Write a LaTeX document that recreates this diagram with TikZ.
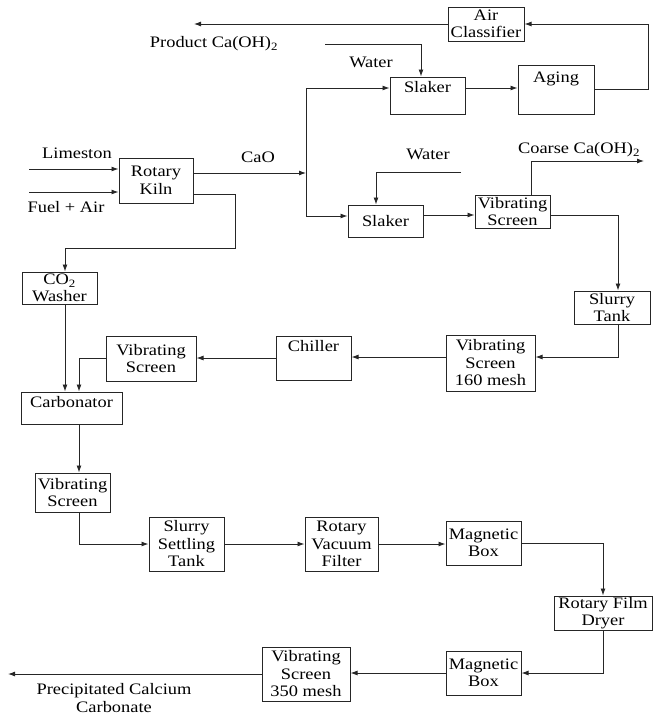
\documentclass[tikz,border=0pt]{standalone}
\usepackage{fontspec}
\setmainfont{Liberation Serif}[FakeStretch=1.15]
\usepackage{tikz}
\usetikzlibrary{arrows.meta}

\begin{document}
\begin{tikzpicture}[
  x=1pt, y=-1pt,
  font=\fontsize{16}{17.5}\selectfont,
  box/.style={draw=black!85, line width=1pt, align=center,
              inner xsep=1pt, inner ysep=0pt},
  toptxt/.style 2 args={text height=#1, text depth=#2},
  lbl/.style={inner sep=0pt, align=center},
  arr/.style={-{Latex[length=7pt,width=5pt]}, line width=0.9pt, black!85}
]
\useasboundingbox (0,0) rectangle (653,715);

% lime / slaking part
\node[box, minimum width=76pt, minimum height=34pt] (aircl) at (486,24) {Air\\Classifier};
\node[box, minimum width=75pt, toptxt={15pt}{22pt}] (slakA) at (427.5,95.5) {Slaker};
\node[box, minimum width=76pt, toptxt={17pt}{32pt}] (aging) at (556,89.5) {Aging};
\node[box, minimum width=74pt, minimum height=45pt] (kiln) at (156,180.5) {Rotary\\Kiln};
\node[box, minimum width=75pt, minimum height=32pt] (slakB) at (385.5,221) {Slaker};
\node[box, minimum width=75pt, minimum height=33pt] (vs1) at (512.5,211.5) {Vibrating\\Screen};
\node[box, minimum width=75pt, minimum height=32pt] (washer) at (59.5,288) {CO\textsubscript{2}\\Washer};
\node[box, minimum width=76pt, minimum height=33pt] (slurry) at (612,307.5) {Slurry\\Tank};
\node[box, minimum width=89pt, minimum height=56pt] (vs160) at (490.5,363) {Vibrating\\Screen\\160 mesh};
\node[box, minimum width=75pt, toptxt={15pt}{29pt}] (chiller) at (313.5,358) {Chiller};
\node[box, minimum width=90pt, minimum height=45pt] (vs2) at (151,358.5) {Vibrating\\Screen};
\node[box, minimum width=101pt, toptxt={15pt}{17pt}] (carb) at (71.5,408) {Carbonator};

% carbonate part
\node[box, minimum width=75pt, minimum height=39pt] (vs3) at (72.5,492.5) {Vibrating\\Screen};
\node[box, minimum width=75pt, minimum height=54pt] (settle) at (186.5,544) {Slurry\\Settling\\Tank};
\node[box, minimum width=73pt, minimum height=54pt] (rvf) at (341.5,544) {Rotary\\Vacuum\\Filter};
\node[box, minimum width=75pt, minimum height=44pt] (mag1) at (483.5,543) {Magnetic\\Box};
\node[box, minimum width=98pt, minimum height=34pt] (dryer) at (603,613) {Rotary Film\\Dryer};
\node[box, minimum width=75pt, minimum height=44pt] (mag2) at (483.5,673) {Magnetic\\Box};
\node[box, minimum width=88pt, minimum height=54pt] (vs4) at (306,674) {Vibrating\\Screen\\350 mesh};

% stream labels
\node[lbl] (prod) at (214,44) {Product Ca(OH)\textsubscript{2}};
\node[lbl] (water1) at (371,62) {Water};
\node[lbl] (lime) at (77,153) {Limeston};
\node[lbl] (fuel) at (66,207) {Fuel + Air};
\node[lbl] (cao) at (258,157) {CaO};
\node[lbl] (water2) at (428,154) {Water};
\node[lbl] (coarse) at (579,150) {Coarse Ca(OH)\textsubscript{2}};
\node[lbl] (pcc) at (114,698) {Precipitated Calcium\\Carbonate};

\coordinate (limein) at (29,169);
\coordinate (fuelin) at (29,192);
\coordinate (split) at (306,173);
\coordinate (w1in) at (325,44);
\coordinate (w2in) at (461,172);
\coordinate (prodout) at (194,24);
\coordinate (recyc) at (648,24);
\coordinate (kbend) at (235,248);
\coordinate (coarseout) at (644,161);
\coordinate (pccout) at (8,674);

\draw[arr] (limein) -- (limein -| kiln.west);
\draw[arr] (fuelin) -- (fuelin -| kiln.west);
\draw[arr] (kiln.east |- split) -- (split);
\draw[arr] (split) |- ([yshift=7.5pt]slakA.west);
\draw[arr] (split) |- ([yshift=5pt]slakB.west);
\draw[arr] (w1in) -| ([xshift=-6.5pt]slakA.north);
\draw[arr] ([yshift=7.5pt]slakA.east) -- ([yshift=7.5pt]slakA.east -| aging.west);
\draw[arr] (aging.east) -| (recyc) -- (aircl.east);
\draw[arr] (aircl.west) -- (prodout);
\draw[arr] ([yshift=-13.5pt]kiln.east) -| (kbend) -| ([xshift=5.5pt]washer.north);
\draw[arr] (w2in) -| ([xshift=-9.5pt]slakB.north);
\draw[arr] ([yshift=6pt]slakB.east) -- ([yshift=6pt]slakB.east -| vs1.west);
\draw[arr] ([xshift=18.5pt]vs1.north) |- (coarseout);
\draw[arr] ([yshift=-3.5pt]vs1.east) -| ([xshift=6pt]slurry.north);
\draw[arr] ([xshift=6pt]slurry.south) |- ([yshift=6pt]vs160.east);
\draw[arr] ([yshift=6pt]vs160.west) -- ([yshift=6pt]vs160.west -| chiller.east);
\draw[arr] (chiller.west) -- (chiller.west -| vs2.east);
\draw[arr] (vs2.west) -| ([xshift=7.5pt]carb.north);
\draw[arr] ([xshift=5.5pt]washer.south) -- ([xshift=5.5pt]washer.south |- carb.north);
\draw[arr] ([xshift=7.5pt]carb.south) -- ([xshift=7.5pt]carb.south |- vs3.north);
\draw[arr] ([xshift=6.5pt]vs3.south) |- (settle.west);
\draw[arr] (settle.east) -- (settle.east -| rvf.west);
\draw[arr] (rvf.east) -- (rvf.east -| mag1.west);
\draw[arr] (mag1.east) -| (dryer.north);
\draw[arr] (dryer.south) |- (mag2.east);
\draw[arr] (mag2.west) -- (mag2.west -| vs4.east);
\draw[arr] (vs4.west) -- (pccout);
\end{tikzpicture}
\end{document}
